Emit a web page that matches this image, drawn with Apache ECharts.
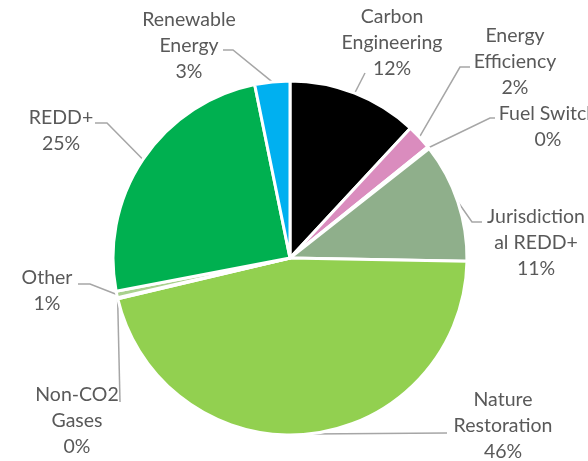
<!DOCTYPE html>
<html>
<head>
<meta charset="utf-8">
<script src="https://cdn.jsdelivr.net/npm/echarts@6/dist/echarts.min.js"></script>
<style>
html,body{margin:0;padding:0;background:#fff;}
#chart{width:588px;height:461px;}
</style>
</head>
<body>
<div id="chart"></div>
<script>
// ---- data ----
const categories = ['Carbon Engineering','Energy Efficiency','Fuel Switch','Jurisdictional REDD+','Nature Restoration','Non-CO2 Gases','Other','REDD+','Renewable Energy'];
const labelNames = ['Carbon\nEngineering','Energy\nEfficiency','Fuel Switch','Jurisdiction\nal REDD+','Nature\nRestoration','Non-CO2\nGases','Other','REDD+','Renewable\nEnergy'];
const shares = [11.9, 2.3, 0.2, 10.9, 46.0, 0.1, 0.6, 24.8, 3.2];
const colors = ['#000000','#DA8CBE','#C9A0C0','#8FAF8B','#92D050','#7F7F7F','#A9D18E','#00B050','#00B0F0'];

// ---- label placement (text block centre, line attach point, elbow) ----
const labelSpots = [
  {x:392, y:43,  ax:365, ay:73,  ex:365, ey:73},
  {x:515, y:62,  ax:470, ay:67,  ex:460, ey:67},
  {x:548, y:127, ax:495, ay:118, ex:490, ey:118},
  {x:536, y:243, ax:482, ay:222, ex:472, ey:222},
  {x:503, y:426, ax:447, ay:433, ex:447, ey:433},
  {x:77,  y:421, ax:120, ay:402, ex:120, ey:402},
  {x:47,  y:291, ax:78,  ay:284, ex:90,  ey:284},
  {x:61,  y:131, ax:95,  ay:123, ex:107, ey:123},
  {x:189, y:46,  ax:223, ay:50,  ex:233, ey:50}
];

const chart = echarts.init(document.getElementById('chart'), null, {renderer:'canvas'});
chart.setOption({
  animation: false,
  backgroundColor: '#ffffff',
  series: [{
    type: 'pie',
    center: [290, 258],
    radius: 177,
    startAngle: 90,
    clockwise: true,
    avoidLabelOverlap: false,
    percentPrecision: 0,
    minShowLabelAngle: 0,
    itemStyle: { borderColor: '#ffffff', borderWidth: 3 },
    label: {
      show: true,
      position: 'outside',
      color: '#595959',
      fontFamily: 'Lato',
      fontSize: 19.5,
      lineHeight: 26,
      align: 'center',
      formatter: function (p) { return labelNames[p.dataIndex] + '\n' + Math.round(p.percent) + '%'; }
    },
    labelLine: {
      show: true,
      length: 10,
      length2: 10,
      lineStyle: { color: '#A6A6A6', width: 1.5 }
    },
    labelLayout: function (params) {
      const s = labelSpots[params.dataIndex];
      const p0 = params.labelLinePoints ? params.labelLinePoints[0] : [s.ex, s.ey];
      return {
        x: s.x, y: s.y, align: 'center', verticalAlign: 'middle',
        labelLinePoints: [p0, [s.ex, s.ey], [s.ax, s.ay]]
      };
    },
    data: categories.map(function (c, i) {
      return { name: c, value: shares[i], itemStyle: { color: colors[i] } };
    })
  }]
});
</script>
</body>
</html>
